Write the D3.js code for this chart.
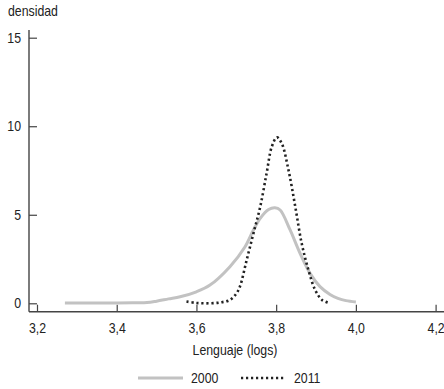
<!DOCTYPE html>
<html>
<head>
<meta charset="utf-8">
<script src="https://cdn.jsdelivr.net/npm/d3@7"></script>
<style>
  html, body { margin: 0; padding: 0; background: #fff; }
  svg text { font-family: "Liberation Sans", Arial, sans-serif; fill: #222; }
</style>
</head>
<body>
<svg id="chart" width="444" height="389"></svg>
<script>
// Kernel density of language scores (logs), 2000 vs 2011
const x2000 = [3.27, 3.32, 3.38, 3.44, 3.476, 3.50, 3.53, 3.559, 3.60, 3.634, 3.684, 3.722, 3.743, 3.76, 3.781, 3.797, 3.81, 3.835, 3.86, 3.885, 3.91, 3.935, 3.955, 3.975, 4.00];
const y2000 = [0.02, 0.01, 0.02, 0.03, 0.04, 0.12, 0.25, 0.37, 0.65, 1.03, 2.07, 3.19, 4.14, 4.80, 5.30, 5.40, 5.27, 4.14, 2.82, 1.69, 0.94, 0.50, 0.28, 0.15, 0.08];
const x2011 = [3.575, 3.60, 3.63, 3.66, 3.684, 3.70, 3.709, 3.726, 3.743, 3.76, 3.776, 3.789, 3.802, 3.814, 3.831, 3.848, 3.864, 3.881, 3.898, 3.915, 3.931];
const y2011 = [0.10, 0.02, 0.00, 0.05, 0.19, 0.55, 0.94, 2.44, 3.95, 5.45, 7.34, 8.84, 9.37, 9.03, 7.52, 5.45, 3.39, 1.88, 0.75, 0.19, 0.03];
const xTicks = [3.2, 3.4, 3.6, 3.8, 4.0, 4.2];
const yTicks = [0, 5, 10, 15];
const seriesNames = ["2000", "2011"];

const svg = d3.select("#chart");
const fmt = d => d3.format(".1f")(d).replace(".", ",");
const SQUEEZE = 0.88;

// horizontally condense text around its own anchor x
function condense(sel) {
  sel.each(function () {
    const t = d3.select(this);
    const ax = +(t.attr("x") || 0);
    t.attr("transform", `translate(${ax},0) scale(${SQUEEZE},1) translate(${-ax},0)`);
  });
}

const x = d3.scaleLinear().domain([3.2, 4.2]).range([37, 435.6]);
const y = d3.scaleLinear().domain([0, 15]).range([303.3, 37.7]);
const axisX = 29, axisY = 311.7;

// y axis
const gy = svg.append("g").attr("transform", `translate(${axisX},0)`)
  .call(d3.axisLeft(y).tickValues(yTicks).tickSizeInner(-8).tickSizeOuter(0).tickPadding(8));
gy.select(".domain").remove();
gy.selectAll(".tick line").attr("stroke", "#444").attr("stroke-width", 1.2);
gy.selectAll(".tick text").attr("font-size", 14).style("font-family", null).call(condense);
svg.append("line").attr("x1", axisX).attr("x2", axisX).attr("y1", 30).attr("y2", axisY)
  .attr("stroke", "#444").attr("stroke-width", 1.4);

// x axis
const gx = svg.append("g").attr("transform", `translate(0,${axisY})`)
  .call(d3.axisBottom(x).tickValues(xTicks).tickFormat(fmt).tickSizeInner(-7).tickSizeOuter(0).tickPadding(11));
gx.select(".domain").remove();
gx.selectAll(".tick line").attr("stroke", "#444").attr("stroke-width", 1.2);
gx.selectAll(".tick text").attr("font-size", 14).style("font-family", null).call(condense);
svg.append("line").attr("x1", axisX).attr("x2", 444).attr("y1", axisY).attr("y2", axisY)
  .attr("stroke", "#444").attr("stroke-width", 1.4);

svg.selectAll("g.tick text").attr("fill", "#222");

// titles
svg.append("text").attr("x", 8).attr("y", 16).attr("font-size", 14).text("densidad").call(condense);
svg.append("text").attr("x", 235).attr("y", 355).attr("text-anchor", "middle").attr("font-size", 14)
  .text("Lenguaje (logs)").call(condense);

// density curves
const line = d3.line().x(d => x(d[0])).y(d => y(d[1])).curve(d3.curveCatmullRom.alpha(0.5));
const d2000 = x2000.map((v, i) => [v, y2000[i]]);
const d2011 = x2011.map((v, i) => [v, y2011[i]]);

svg.append("path").attr("d", line(d2000)).attr("fill", "none")
  .attr("stroke", "#c2c2c2").attr("stroke-width", 3);
svg.append("path").attr("d", line(d2011)).attr("fill", "none")
  .attr("stroke", "#222").attr("stroke-width", 2.6).attr("stroke-dasharray", "2.2,2.8");

// legend
const lg = svg.append("g");
lg.append("line").attr("x1", 138).attr("x2", 183).attr("y1", 378).attr("y2", 378)
  .attr("stroke", "#c2c2c2").attr("stroke-width", 3);
lg.append("text").attr("x", 191).attr("y", 383).attr("font-size", 14).text(seriesNames[0]).call(condense);
lg.append("line").attr("x1", 241).attr("x2", 286).attr("y1", 378).attr("y2", 378)
  .attr("stroke", "#222").attr("stroke-width", 2.6).attr("stroke-dasharray", "2.2,2.8");
lg.append("text").attr("x", 294).attr("y", 383).attr("font-size", 14).text(seriesNames[1]).call(condense);
</script>
</body>
</html>
